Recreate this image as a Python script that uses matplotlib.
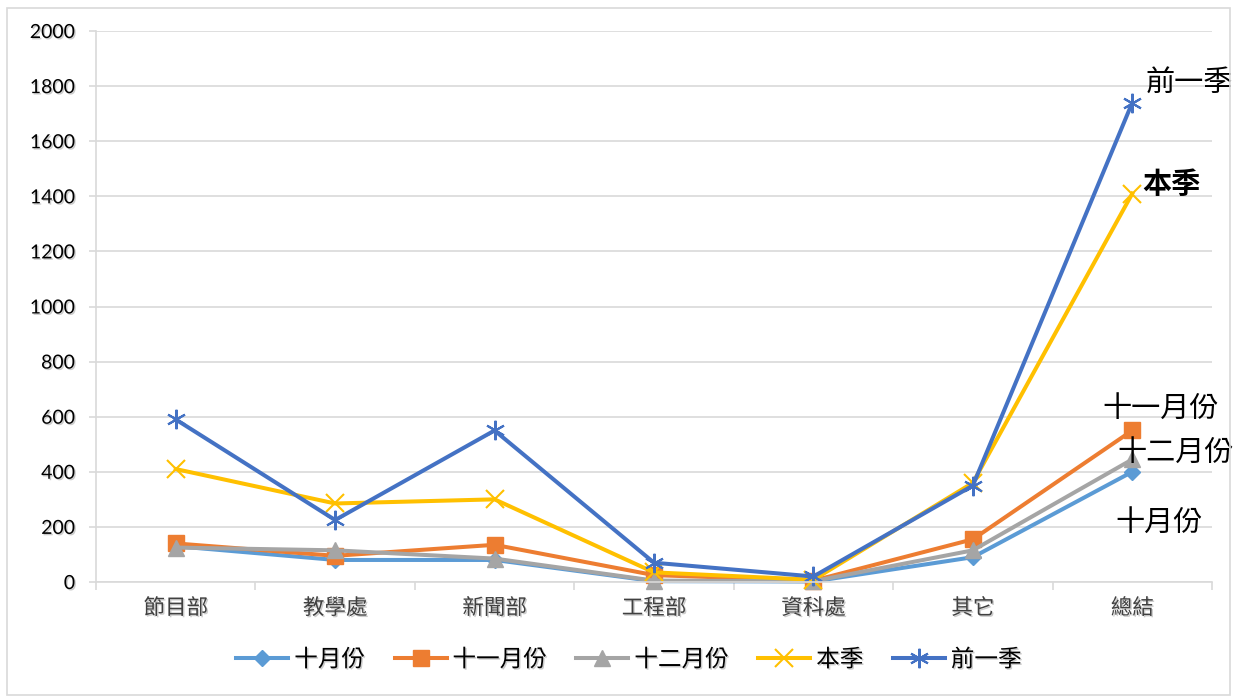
import matplotlib
matplotlib.use("Agg")
import matplotlib.pyplot as plt
import matplotlib.patheffects as pe
from matplotlib.patches import Rectangle
from matplotlib.ticker import FixedLocator

plt.rcParams['font.family'] = ['Noto Sans CJK TC', 'DejaVu Sans']

categories = ['節目部', '教學處', '新聞部', '工程部', '資科處', '其它', '總結']
series_names = ['十月份', '十一月份', '十二月份', '本季', '前一季']
oct_vals = [130, 80, 80, 3, 2, 90, 400]
nov_vals = [140, 95, 135, 25, 5, 155, 550]
dec_vals = [125, 115, 85, 5, 3, 115, 445]
this_q = [410, 285, 300, 35, 8, 360, 1410]
prev_q = [590, 225, 550, 70, 20, 350, 1740]
y_ticks = [0, 200, 400, 600, 800, 1000, 1200, 1400, 1600, 1800, 2000]

colors = ['#5B9BD5', '#ED7D31', '#A5A5A5', '#FFC000', '#4472C4']
markers = ['D', 's', '^', 'x', (6, 2, 0)]
msizes = [8, 11, 11, 13, 14]
mews = [1, 1, 1, 1.5, 1.5]
values = [oct_vals, nov_vals, dec_vals, this_q, prev_q]

fig = plt.figure(figsize=(12.38, 6.97), dpi=100)
fig.patches.append(Rectangle((7/1238, 2/697), 1223/1238, 687/697, transform=fig.transFigure,
                             fill=False, edgecolor='#D9D9D9', linewidth=1.2))
ax = fig.add_axes([96/1238, 115/697, 1116/1238, 551/697])

x = list(range(len(categories)))
shadow = [pe.withSimplePatchShadow(offset=(1, -1), shadow_rgbFace='#999999', alpha=0.5)]
lines = []
for name, vals, c, m, ms, mew in zip(series_names, values, colors, markers, msizes, mews):
    ln, = ax.plot(x, vals, color=c, marker=m, markersize=ms, markeredgewidth=mew,
                  markeredgecolor=c, markerfacecolor=c, linewidth=2.9, label=name,
                  solid_joinstyle='round', clip_on=False)
    lines.append(ln)

ax.set_xlim(-0.5, len(categories) - 0.5)
ax.set_ylim(0, 2000)
ax.set_yticks(y_ticks)
ax.set_yticklabels([str(t) for t in y_ticks], family=['Lato', 'DejaVu Sans'], fontsize=14,
                   color='#000000')
ax.set_xticks(x)
ax.set_xticklabels(categories, fontsize=15.5, color='#404040')
ax.xaxis.set_minor_locator(FixedLocator([i - 0.5 for i in range(len(categories) + 1)]))
ax.tick_params(axis='x', which='major', length=0, pad=11)
ax.tick_params(axis='x', which='minor', length=6, color='#D9D9D9', width=1.2, direction='out')
ax.tick_params(axis='y', length=5, color='#D9D9D9', width=1.2, pad=10)
ax.grid(axis='y', color='#D9D9D9', linewidth=1.2)
ax.set_axisbelow(True)
for s in ['top', 'right']:
    ax.spines[s].set_visible(False)
for s in ['left', 'bottom']:
    ax.spines[s].set_color('#D9D9D9')
    ax.spines[s].set_linewidth(1.2)
for lbl in ax.get_yticklabels() + ax.get_xticklabels():
    lbl.set_path_effects(shadow)

# end-of-line data labels
last = len(categories) - 1
label_specs = [
    ('十月份', oct_vals[last], (-17, -51), 'normal'),
    ('十一月份', nov_vals[last], (-30, 22), 'normal'),
    ('十二月份', dec_vals[last], (-15, 7), 'normal'),
    ('本季', this_q[last], (10, 10), 'bold'),
    ('前一季', prev_q[last], (13, 20), 'normal'),
]
for txt, yv, off, wt in label_specs:
    ax.annotate(txt, (last, yv), xytext=off, textcoords='offset pixels',
                ha='left', va='center', fontsize=21, fontweight=wt, color='#000000',
                annotation_clip=False)

leg = fig.legend(handles=lines, loc='center', bbox_to_anchor=(629/1238, 1 - 660/697),
                 ncol=5, frameon=False, fontsize=17, handlelength=2.2, columnspacing=1.25,
                 handletextpad=0.25)
for t in leg.get_texts():
    t.set_path_effects(shadow)

fig.savefig('out.png', dpi=100)
